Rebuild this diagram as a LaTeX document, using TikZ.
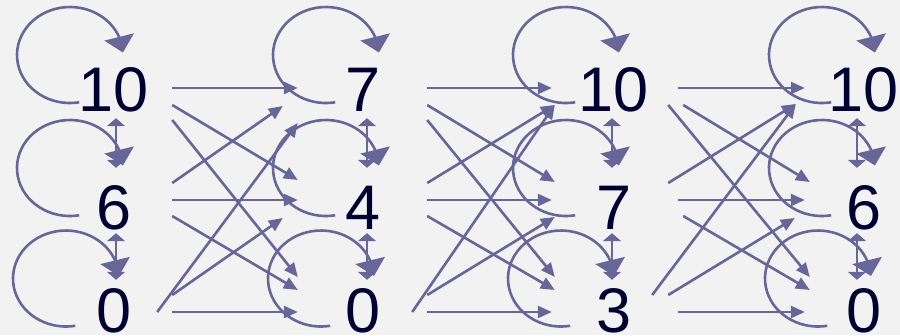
\documentclass[tikz,border=0pt]{standalone}
\usepackage{fontspec}
\setmainfont{Liberation Sans}
\usetikzlibrary{arrows.meta,bending}

\definecolor{edgecol}{HTML}{666699}
\definecolor{numcol}{HTML}{000033}
\definecolor{bgcol}{HTML}{F2F2F2}

\begin{document}
\begin{tikzpicture}[
  x=1pt, y=1pt,
  num/.style={font=\fontsize{63}{63}\selectfont, text=numcol, inner sep=0pt, minimum width=120pt, text height=45pt, text depth=0pt},
  arr/.style={draw=edgecol, line width=2.6pt, -{Triangle[length=14pt,width=12pt]}},
  selfloop/.style={draw=edgecol, line width=2.6pt, -{Triangle[length=16pt,width=30pt]}},
  dbl/.style={draw=edgecol, line width=2pt, {Triangle[length=8pt,width=18pt]}-{Triangle[length=8pt,width=18pt]}}
]
\fill[bgcol] (0,0) rectangle (900,335);
\useasboundingbox (0,0) rectangle (900,335);

% the four columns of values
\node[num] (a10) at (114,245.5) {10};
\node[num] (a6)  at (114,127.5) {6};
\node[num] (a0)  at (114,25.5)  {0};
\node[num] (b7)  at (363,245.5) {7};
\node[num] (b4)  at (363,127.5) {4};
\node[num] (b0)  at (363,25.5)  {0};
\node[num] (c10) at (614,245.5) {10};
\node[num] (c7)  at (614,127.5) {7};
\node[num] (c3)  at (614,25.5)  {3};
\node[num] (d10) at (864,245.5) {10};
\node[num] (d6)  at (864,127.5) {6};
\node[num] (d0)  at (864,25.5)  {0};

% self loops
\draw[selfloop] ([shift={(-34.8,-12.8)}]a10.center) arc[start angle=280, end angle=3, x radius=53, y radius=48];
\draw[selfloop] ([shift={(-34.8,-7.8)}]a6.center) arc[start angle=280, end angle=3, x radius=53, y radius=48];
\draw[selfloop] ([shift={(-38.8,-16.3)}]a0.center) arc[start angle=280, end angle=3, x radius=53, y radius=48];
\draw[selfloop] ([shift={(-27.8,-12.8)}]b7.center) arc[start angle=280, end angle=3, x radius=53, y radius=48];
\draw[selfloop] ([shift={(-27.8,-7.8)}]b4.center) arc[start angle=280, end angle=3, x radius=53, y radius=48];
\draw[selfloop] ([shift={(-32.8,-16.3)}]b0.center) arc[start angle=280, end angle=3, x radius=53, y radius=48];
\draw[selfloop] ([shift={(-38.8,-12.8)}]c10.center) arc[start angle=280, end angle=3, x radius=53, y radius=48];
\draw[selfloop] ([shift={(-38.8,-7.8)}]c7.center) arc[start angle=280, end angle=3, x radius=53, y radius=48];
\draw[selfloop] ([shift={(-43.8,-16.3)}]c3.center) arc[start angle=280, end angle=3, x radius=53, y radius=48];
\draw[selfloop] ([shift={(-32.8,-12.8)}]d10.center) arc[start angle=280, end angle=3, x radius=53, y radius=48];
\draw[selfloop] ([shift={(-32.8,-7.8)}]d6.center) arc[start angle=280, end angle=3, x radius=53, y radius=48];
\draw[selfloop] ([shift={(-36.8,-16.3)}]d0.center) arc[start angle=280, end angle=3, x radius=53, y radius=48];

% within a column
\draw[dbl] ([xshift=2,yshift=-6]a10.south) -- ([xshift=2,yshift=17]a6.north);
\draw[dbl] ([xshift=2,yshift=-3]a6.south) -- ([xshift=2,yshift=7]a0.north);
\draw[dbl] ([xshift=4,yshift=-6]b7.south) -- ([xshift=4,yshift=17]b4.north);
\draw[dbl] ([xshift=4,yshift=-3]b4.south) -- ([xshift=4,yshift=7]b0.north);
\draw[dbl] ([xshift=-2,yshift=-6]c10.south) -- ([xshift=-2,yshift=17]c7.north);
\draw[dbl] ([xshift=-2,yshift=-3]c7.south) -- ([xshift=-2,yshift=7]c3.north);
\draw[dbl] ([xshift=-7,yshift=-6]d10.south) -- ([xshift=-7,yshift=17]d6.north);
\draw[dbl] ([xshift=-7,yshift=-3]d6.south) -- ([xshift=-7,yshift=7]d0.north);

% first column to second
\draw[arr] ([xshift=-2,yshift=1.5]a10.east) -- ([xshift=-5,yshift=1.5]b7.west);
\draw[arr] ([xshift=-2,yshift=-15.5]a10.east) -- ([xshift=-5,yshift=27.5]b4.west);
\draw[arr] ([xshift=-2,yshift=-30.5]a10.east) -- ([xshift=-5,yshift=32.5]b0.west);
\draw[arr] ([xshift=-2,yshift=24.5]a6.east) -- ([xshift=-20,yshift=-16.5]b7.west);
\draw[arr] ([xshift=-2,yshift=7.5]a6.east) -- ([xshift=-5,yshift=7.5]b4.west);
\draw[arr] ([xshift=-2,yshift=-8.5]a6.east) -- ([xshift=-5,yshift=19.5]b0.west);
\draw[arr] ([xshift=-2,yshift=14.5]a0.east) -- ([xshift=-20,yshift=-10.5]b4.west);
\draw[arr] ([xshift=-17,yshift=-2.5]a0.east) -- ([xshift=-5,yshift=-33.5]b7.west);
\draw[arr] ([xshift=-2,yshift=-2.5]a0.east) -- ([xshift=-5,yshift=-2.5]b0.west);

% second column to third
\draw[arr] ([xshift=4,yshift=1.5]b7.east) -- ([xshift=-2,yshift=1.5]c10.west);
\draw[arr] ([xshift=4,yshift=-15.5]b7.east) -- ([xshift=1,yshift=25.5]c7.west);
\draw[arr] ([xshift=4,yshift=-30.5]b7.east) -- ([xshift=1,yshift=32.5]c3.west);
\draw[arr] ([xshift=4,yshift=24.5]b4.east) -- ([xshift=1,yshift=-15.5]c10.west);
\draw[arr] ([xshift=4,yshift=7.5]b4.east) -- ([xshift=-2,yshift=7.5]c7.west);
\draw[arr] ([xshift=4,yshift=-8.5]b4.east) -- ([xshift=1,yshift=19.5]c3.west);
\draw[arr] ([xshift=4,yshift=14.5]b0.east) -- ([xshift=1,yshift=-9.5]c7.west);
\draw[arr] ([xshift=-11,yshift=-2.5]b0.east) -- ([xshift=1,yshift=-15.5]c10.west);
\draw[arr] ([xshift=4,yshift=-2.5]b0.east) -- ([xshift=-2,yshift=-2.5]c3.west);

% third column to fourth
\draw[arr] ([xshift=4,yshift=1.5]c10.east) -- ([xshift=1,yshift=1.5]d10.west);
\draw[arr] ([xshift=-6,yshift=-15.5]c10.east) -- ([xshift=6,yshift=32.5]d0.west);
\draw[arr] ([xshift=9,yshift=-15.5]c10.east) -- ([xshift=6,yshift=25.5]d6.west);
\draw[arr] ([xshift=-6,yshift=24.5]c7.east) -- ([xshift=-8,yshift=-14.5]d10.west);
\draw[arr] ([xshift=4,yshift=7.5]c7.east) -- ([xshift=1,yshift=7.5]d6.west);
\draw[arr] ([xshift=9,yshift=-8.5]c7.east) -- ([xshift=6,yshift=19.5]d0.west);
\draw[arr] ([xshift=-22,yshift=14.5]c3.east) -- ([xshift=-8,yshift=-14.5]d10.west);
\draw[arr] ([xshift=-6,yshift=14.5]c3.east) -- ([xshift=-9,yshift=-10.5]d6.west);
\draw[arr] ([xshift=4,yshift=-2.5]c3.east) -- ([xshift=1,yshift=-2.5]d0.west);
\end{tikzpicture}
\end{document}
